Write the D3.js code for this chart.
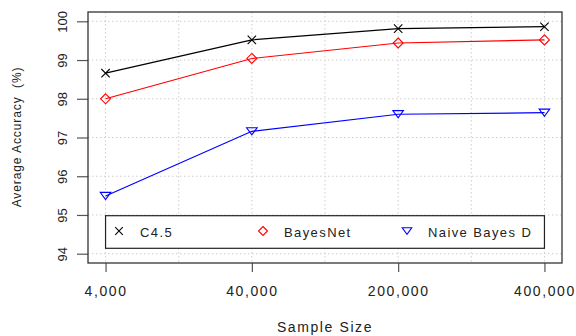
<!DOCTYPE html>
<html>
<head>
<meta charset="utf-8">
<script src="https://cdn.jsdelivr.net/npm/d3@7"></script>
<style>
  body { margin: 0; background: #fff; }
  svg { display: block; font-family: "Liberation Sans", Arial, sans-serif; }
</style>
</head>
<body>
<svg id="chart" width="576" height="336"></svg>
<script>
// sample sizes (categorical, equally spaced)
const sampleSizes = ['4,000', '40,000', '200,000', '400,000'];
const yTicks = [94, 95, 96, 97, 98, 99, 100];

// average accuracy per classifier (%)
const c45 = [98.66, 99.52, 99.81, 99.86];
const bayesNet = [98.0, 99.04, 99.44, 99.52];
const naiveBayesD = [95.49, 97.16, 97.6, 97.64];

const seriesNames = ['C4.5', 'BayesNet', 'Naive Bayes D'];

const width = 576, height = 336;
const plot = { left: 88, top: 12, right: 562, bottom: 263 };

const svg = d3.select('#chart');

// R-style 4% padding around the data range
const x = d3.scaleLinear().domain([0.88, 4.12]).range([plot.left, plot.right]);
const y = d3.scaleLinear().domain([93.76, 100.24]).range([plot.bottom, plot.top]);

// grid: dotted lines, vertical every half step
const grid = svg.append('g').attr('stroke', '#cfcfcf').attr('stroke-dasharray', '1.5,2.5').attr('stroke-width', 1);
d3.range(1, 4.01, 0.5).forEach(v => {
  grid.append('line').attr('x1', x(v)).attr('x2', x(v)).attr('y1', plot.top).attr('y2', plot.bottom);
});
yTicks.forEach(v => {
  grid.append('line').attr('x1', plot.left).attr('x2', plot.right).attr('y1', y(v)).attr('y2', y(v));
});

// Y axis (labels rotated like R's default las=0)
const yAxis = svg.append('g')
  .attr('transform', `translate(${plot.left},0)`)
  .call(d3.axisLeft(y).tickValues(yTicks).tickSize(11).tickFormat(d3.format('d')));
yAxis.select('.domain').remove();
yAxis.selectAll('line').attr('stroke', '#555').attr('stroke-width', 1.2);
yAxis.selectAll('text')
  .attr('font-size', 13)
  .attr('fill', '#222')
  .attr('text-anchor', 'middle')
  .attr('x', 0).attr('y', 0).attr('dy', 0)
  .attr('transform', 'translate(-21,0) rotate(-90)');

// X axis
const xAxis = svg.append('g')
  .attr('transform', `translate(0,${plot.bottom})`)
  .call(d3.axisBottom(x).tickValues([1, 2, 3, 4]).tickSize(9).tickPadding(14).tickFormat((d, i) => sampleSizes[i]));
xAxis.select('.domain').remove();
xAxis.selectAll('line').attr('stroke', '#555').attr('stroke-width', 1.2);
xAxis.selectAll('text')
  .attr('font-size', 14)
  .attr('fill', '#222')
  .attr('letter-spacing', '1.6px');

// frame
svg.append('rect')
  .attr('x', plot.left).attr('y', plot.top)
  .attr('width', plot.right - plot.left).attr('height', plot.bottom - plot.top)
  .attr('fill', 'none').attr('stroke', '#333').attr('stroke-width', 1.3);

// axis titles
svg.append('text')
  .attr('x', (plot.left + plot.right) / 2 + 0).attr('y', 332)
  .attr('text-anchor', 'middle').attr('font-size', 14).attr('fill', '#222')
  .attr('letter-spacing', '1.6px')
  .text('Sample Size');
svg.append('text')
  .attr('transform', 'translate(21,137) rotate(-90)')
  .attr('text-anchor', 'middle').attr('font-size', 12).attr('fill', '#222')
  .attr('letter-spacing', '0.9px')
  .style('white-space', 'pre')
  .text('Average Accuracy  (%)');

// markers
function drawMarker(g, type, cx, cy, color, k = 1) {
  let d;
  if (type === 'cross') {
    const s = 4.2 * k;
    d = `M${cx - s},${cy - s}L${cx + s},${cy + s}M${cx - s},${cy + s}L${cx + s},${cy - s}`;
  } else if (type === 'diamond') {
    const s = 5 * k;
    d = `M${cx},${cy - s}L${cx + s},${cy}L${cx},${cy + s}L${cx - s},${cy}Z`;
  } else {
    const w = 5.3 * k, h = 7.2 * k;
    d = `M${cx - w},${cy - h / 2}L${cx + w},${cy - h / 2}L${cx},${cy + h / 2}Z`;
  }
  g.append('path').attr('d', d).attr('stroke', color).attr('stroke-width', 1.1).attr('fill', 'none');
}

const series = [
  { name: seriesNames[0], values: c45, color: '#000000', marker: 'cross' },
  { name: seriesNames[1], values: bayesNet, color: '#ff0000', marker: 'diamond' },
  { name: seriesNames[2], values: naiveBayesD, color: '#0000ff', marker: 'triangle' }
];

const line = d3.line().x((d, i) => x(i + 1)).y(d => y(d));

series.forEach(s => {
  const g = svg.append('g');
  g.append('path')
    .attr('d', line(s.values))
    .attr('fill', 'none').attr('stroke', s.color).attr('stroke-width', 1.2);
  s.values.forEach((v, i) => drawMarker(g, s.marker, x(i + 1), y(v), s.color));
});

// legend (white box covering grid)
const legTop = 215.7, legBottom = 248.3;
const legend = svg.append('g');
legend.append('rect')
  .attr('x', x(1)).attr('y', legTop)
  .attr('width', x(4) - x(1)).attr('height', legBottom - legTop)
  .attr('fill', '#fff').attr('stroke', '#222').attr('stroke-width', 1.2);
const legCy = (legTop + legBottom) / 2;
series.forEach((s, i) => {
  const mx = 119 + i * 144;
  drawMarker(legend, s.marker, mx, legCy - 1, s.color, 0.9);
  legend.append('text')
    .attr('x', mx + 21).attr('y', legCy + 5)
    .attr('font-size', 13).attr('fill', '#222')
    .attr('letter-spacing', '1.4px')
    .text(s.name);
});
</script>
</body>
</html>
